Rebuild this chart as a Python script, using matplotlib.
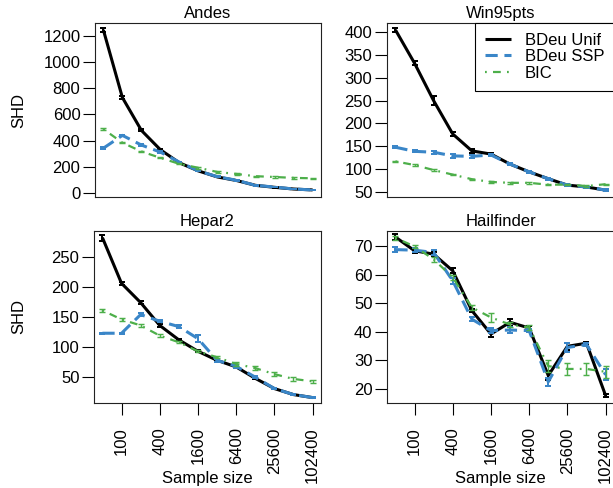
import numpy as np
import matplotlib.pyplot as plt

plt.rcParams['font.family'] = ['Liberation Sans', 'DejaVu Sans']
plt.rcParams['font.size'] = 12

# 样本量
sample_size = [50, 100, 200, 400, 800, 1600, 3200, 6400, 12800, 25600, 51200, 102400]
tick_sizes = [100, 400, 1600, 6400, 25600, 102400]

# Andes
andes_unif = [1246, 729, 478, 330, 230, 168, 122, 95, 58, 43, 30, 23]
andes_ssp = [342, 440, 366, 312, 235, 168, 124, 97, 58, 45, 30, 23]
andes_bic = [488, 384, 317, 268, 222, 192, 160, 145, 128, 122, 115, 112]
andes_unif_err = [12, 10, 7, 6, 4, 3, 2, 2, 2, 2, 1, 1]
andes_ssp_err = [6, 6, 5, 5, 4, 3, 2, 2, 2, 2, 1, 1]
andes_bic_err = [5, 4, 4, 4, 4, 6, 5, 5, 5, 5, 5, 5]

# Win95pts
win_unif = [405, 332, 250, 177, 140, 133, 111, 94, 79, 65, 61, 54]
win_ssp = [148, 139, 137, 129, 128, 131, 111, 94, 79, 65, 61, 54]
win_bic = [117, 109, 98, 88, 78, 72, 70, 70, 66, 66, 63, 67]
win_unif_err = [5, 5, 10, 4, 4, 3, 3, 2, 2, 2, 2, 2]
win_ssp_err = [2, 2, 3, 4, 4, 3, 3, 2, 2, 2, 2, 2]
win_bic_err = [1.5, 1.5, 1.5, 1.5, 1.5, 1.5, 1.5, 1.5, 1.5, 1.5, 1.5, 1.5]

# Hepar2
hepar_unif = [282, 206, 174, 136, 112, 93, 78, 67, 48, 31, 21, 16]
hepar_ssp = [123, 123, 154, 143, 134, 114, 78, 68, 50, 31, 21, 16]
hepar_bic = [161, 146, 136, 119, 108, 93, 83, 72, 65, 55, 47, 43]
hepar_unif_err = [5, 2, 3, 2, 2, 2, 1, 1, 1, 1, 1, 1]
hepar_ssp_err = [1, 1, 2, 2, 2, 6, 2, 2, 2, 1, 1, 1]
hepar_bic_err = [2, 2, 2, 2, 2, 2, 2, 3, 3, 3, 3, 3]

# Hailfinder
hail_unif = [73.1, 68.3, 67.1, 61.3, 47.4, 39.2, 43.3, 41.3, 24.7, 34.9, 36.0, 17.7]
hail_ssp = [68.7, 68.5, 67.7, 57.8, 44.4, 40.4, 40.6, 40.4, 22.5, 34.5, 35.5, 25.0]
hail_bic = [72.8, 69.8, 65.3, 59.0, 48.5, 45.0, 42.5, 41.5, 28.0, 27.0, 27.0, 26.0]
hail_unif_err = [1.0, 0.8, 0.8, 0.8, 0.6, 1.0, 1.2, 0.6, 1.5, 1.2, 0.5, 0.5]
hail_ssp_err = [0.8, 0.6, 1.0, 1.0, 0.8, 1.0, 1.2, 0.6, 1.5, 1.5, 0.5, 2.0]
hail_bic_err = [0.8, 0.6, 0.8, 0.8, 0.8, 1.5, 1.0, 1.0, 2.0, 2.0, 2.0, 2.0]

labels = ['BDeu Unif', 'BDeu SSP', 'BIC']
colors = ['black', '#3A86C8', '#4DAF4A']
line_widths = [2.2, 2.2, 1.6]
dash_styles = [None, (4, 2.2), (0.8, 2.8, 3.5, 2.8)]

panels = [
    ('Andes', [andes_unif, andes_ssp, andes_bic], [andes_unif_err, andes_ssp_err, andes_bic_err],
     (-31, 1299), np.arange(0, 1201, 200)),
    ('Win95pts', [win_unif, win_ssp, win_bic], [win_unif_err, win_ssp_err, win_bic_err],
     (39, 420), np.arange(50, 401, 50)),
    ('Hepar2', [hepar_unif, hepar_ssp, hepar_bic], [hepar_unif_err, hepar_ssp_err, hepar_bic_err],
     (7, 293), np.arange(50, 251, 50)),
    ('Hailfinder', [hail_unif, hail_ssp, hail_bic], [hail_unif_err, hail_ssp_err, hail_bic_err],
     (15.1, 75.2), np.arange(20, 71, 10)),
]

W, H = 613, 488
fig = plt.figure(figsize=(W / 100, H / 100), dpi=100)

# 子图位置 (像素: 左, 上, 右, 下)
boxes = [(95, 23, 321, 197), (387, 23, 614, 197),
         (94, 231, 321, 403), (387, 231, 614, 403)]

# R 风格 4% 边距
lo, hi = np.log2(sample_size[0]), np.log2(sample_size[-1])
pad = 0.04 * (hi - lo)
xlim = (2 ** (lo - pad), 2 ** (hi + pad))

for i, (name, series, errs, ylim, yticks) in enumerate(panels):
    l, t, r, b = boxes[i]
    ax = fig.add_axes([l / W, 1 - b / H, (r - l) / W, (b - t) / H])
    ax.set_xscale('log')
    handles = []
    for vals, err, c, lw, d, lab in zip(series, errs, colors, line_widths, dash_styles, labels):
        if d is None:
            ln, = ax.plot(sample_size, vals, color=c, lw=lw, label=lab, solid_capstyle='butt')
        else:
            ln, = ax.plot(sample_size, vals, color=c, lw=lw, label=lab, dashes=d)
        ax.errorbar(sample_size, vals, yerr=err, fmt='none', ecolor=c,
                    elinewidth=lw * 0.65, capsize=2.5, capthick=lw * 0.65)
        handles.append(ln)
    ax.set_xlim(xlim)
    ax.set_ylim(ylim)
    ax.set_yticks(yticks)
    ax.set_yticklabels([str(v) for v in yticks])
    ax.minorticks_off()
    ax.tick_params(axis='y', direction='out', length=8.5, width=0.8, pad=2, labelsize=12)
    for s in ax.spines.values():
        s.set_linewidth(0.8)
        s.set_color('#222222')
    ax.set_title(name, fontsize=12, pad=3.5)
    if i >= 2:
        ax.set_xticks(tick_sizes)
        ax.set_xticklabels([str(v) for v in tick_sizes], rotation=90, va='top', ha='center')
        ax.tick_params(axis='x', direction='out', length=8.5, width=0.8, pad=9, labelsize=12)
        ax.text(0.5, -(483 - 403) / (403 - 231), 'Sample size', transform=ax.transAxes,
                ha='center', va='baseline', fontsize=12)
    else:
        ax.set_xticks([])
    if i % 2 == 0:
        ax.text(-(l - 18.5) / (r - l), 0.5, 'SHD', transform=ax.transAxes,
                rotation=90, ha='center', va='center', fontsize=12)
    if i == 1:
        leg = ax.legend(handles=handles, loc='upper right', borderaxespad=0,
                        fancybox=False, framealpha=1, edgecolor='black',
                        handlelength=1.55, labelspacing=0.08, borderpad=0.6,
                        handletextpad=0.8, fontsize=12)
        leg.get_frame().set_linewidth(0.8)

plt.savefig('out.png', dpi=100)
